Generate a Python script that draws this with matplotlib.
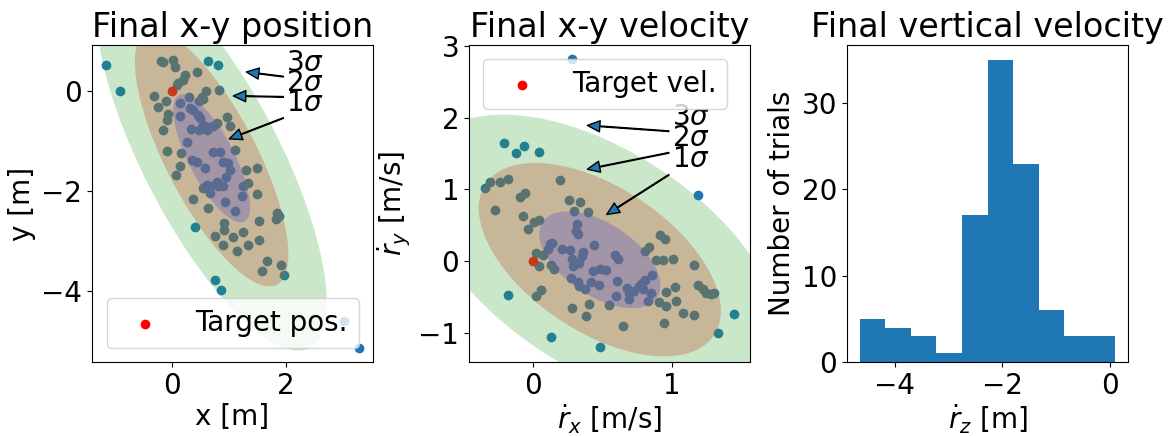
import matplotlib.pyplot as plt
from matplotlib.patches import Ellipse
import numpy as np

plt.rcParams['font.size'] = 20

# final x-y position of each trial [m]
pos_x = [-1.173, -0.921, -0.205, -0.158, 0.006, 0.047, 0.633, 0.798, 0.428, 0.223,
         0.182, 0.106, 0.076, -0.323, -0.117, -0.252, -0.082, -0.100, -0.164, -0.100,
         0.135, 0.293, 0.516, 0.592, 0.821, 0.475, 0.545, 0.135, 0.311, 0.370,
         0.457, 0.487, 0.545, 0.633, 0.604, 0.721, 0.780, 0.956, 1.015, 1.103,
         0.328, 0.475, 0.252, 0.340, 0.428, 0.575, 0.721, 0.839, 0.897, 0.985,
         1.015, 0.944, 0.780, 0.809, 0.663, 0.604, 0.545, 0.663, 0.927, 1.103,
         1.296, 1.484, 1.337, 1.238, 1.484, 1.226, 0.370, 0.633, 0.135, 0.065,
         0.147, 0.405, 0.751, 0.915, 0.915, 1.073, 0.886, 1.249, 1.337, 1.132,
         1.519, 1.519, 1.836, 1.865, 1.824, 1.660, 1.572, 1.912, 1.953, 0.751,
         0.850, 3.009, 3.273, 0.897]
pos_y = [0.520, 0.000, 0.607, 0.587, 0.620, 0.487, 0.600, 0.520, 0.387, 0.320,
         0.220, 0.167, 0.120, -0.100, -0.193, -0.327, -0.460, -0.580, -0.780, -1.193,
         -0.500, -0.120, -0.113, 0.007, 0.020, -0.193, -0.160, -0.247, -0.347, -0.380,
         -0.480, -0.547, -0.680, -0.713, -0.780, -0.700, -0.633, -0.513, -0.700, -1.180,
         -0.767, -0.780, -1.013, -1.380, -1.427, -1.547, -1.213, -1.227, -1.413, -1.447,
         -1.580, -1.727, -1.813, -1.913, -1.913, -1.880, -1.953, -2.047, -2.233, -2.413,
         -1.580, -1.547, -1.833, -1.913, -2.060, -2.113, -2.160, -2.347, -1.500, -1.680,
         -1.247, -2.733, -2.913, -2.647, -2.780, -2.933, -3.080, -2.827, -3.080, -3.213,
         -2.613, -2.980, -2.447, -2.513, -2.567, -3.413, -3.613, -3.493, -3.680, -3.780,
         -3.993, -4.613, -5.147, -1.913]

# final x-y velocity of each trial [m/s]
vel_x = [0.277, -0.214, -0.130, -0.065, 0.043, -0.352, -0.313, -0.239, -0.183, 0.195,
         -0.275, -0.094, -0.058, -0.077, -0.041, 0.007, 0.043, 0.255, 0.337, 0.296,
         0.395, 0.316, 0.308, 0.320, 0.439, 0.116, 0.133, 0.104, 0.207, 0.265,
         0.357, 0.349, 0.280, 0.333, 0.284, 0.019, 0.043, 0.072, 0.130, 0.147,
         0.275, 0.320, 0.333, 0.376, 0.417, 0.477, 0.429, 0.484, 0.528, 0.593,
         0.610, 0.605, 0.595, 0.675, 0.689, 0.694, 0.730, 0.766, 0.786, 0.810,
         0.858, 0.851, 0.829, 0.795, 0.807, 0.834, 0.916, 0.954, 0.887, 0.940,
         1.007, 1.159, 1.188, 1.224, 1.248, 1.284, 1.308, 0.959, 1.027, 1.031,
         0.906, 0.959, 0.947, 1.080, 1.159, 1.333, 1.453, 1.193, 0.019, 0.051,
         0.280, 0.405, 0.378, 0.549, 0.651, -0.186, 0.128, 0.484]
vel_y = [2.814, 1.651, 1.512, 1.605, 1.526, 1.023, 1.102, 1.107, 1.140, 1.130,
         0.707, 0.893, 0.953, 0.628, 0.451, 0.544, 0.567, 0.847, 0.823, 0.698,
         0.688, 0.521, 0.419, 0.372, 0.219, 0.233, 0.256, 0.163, 0.163, 0.149,
         0.126, 0.070, 0.033, -0.023, -0.070, 0.116, -0.070, 0.079, -0.047, -0.107,
         -0.237, -0.288, -0.340, -0.386, -0.293, -0.326, -0.140, -0.116, -0.126, 0.079,
         0.023, -0.279, -0.479, -0.372, -0.442, -0.521, -0.419, -0.340, -0.302, -0.265,
         -0.200, -0.442, -0.558, -0.395, 0.135, 0.200, 0.358, 0.302, 0.014, 0.014,
         0.023, -0.047, -0.326, -0.386, -0.442, -0.451, -0.442, -0.433, -0.358, -0.558,
         -0.567, -0.628, -0.860, -0.721, -0.753, -1.000, -0.730, 0.921, -0.479, -0.409,
         -0.651, -0.591, -0.767, -0.614, -0.898, -0.465, -1.060, -1.200]

# histogram of final vertical velocity
vz_edges = [-4.65, -4.175, -3.70, -3.225, -2.75, -2.275, -1.80, -1.325, -0.85, -0.375, 0.10]
vz_counts = [5, 4, 3, 1, 17, 35, 23, 6, 3, 3]

# 1-sigma ellipses: centre, semi-axes, angle (deg)
pos_ell = dict(center=(0.69, -1.35), a=1.39, b=0.41, angle=-66.2)
vel_ell = dict(center=(0.48, 0.02), a=0.726, b=0.344, angle=-64.9)

# fill colour and alpha of each sigma level
sigma_style = {3: ('C2', 0.25), 2: ('#c45a3a', 0.34), 1: ('#5f5cc4', 0.36)}


def draw_ellipses(ax, ell):
    for n in (3, 2, 1):
        fc, al = sigma_style[n]
        e = Ellipse(ell['center'], width=2 * n * ell['a'], height=2 * n * ell['b'],
                    angle=ell['angle'], facecolor=fc, alpha=al)
        ax.add_patch(e)


def sigma_labels(ax, tips, text_x, text_y):
    for n, tip, ty in zip((3, 2, 1), tips, text_y):
        ax.annotate(r'$%d\sigma$' % n, xy=tip, xytext=(text_x, ty),
                    arrowprops=dict(facecolor='C0', width=0.5, headwidth=8, headlength=9))


fig = plt.figure(figsize=(11.75, 4.36), dpi=100)
ax1 = fig.add_axes([0.0783, 0.1697, 0.2391, 0.7271])
ax2 = fig.add_axes([0.3991, 0.1697, 0.2391, 0.7271])
ax3 = fig.add_axes([0.7209, 0.1697, 0.2391, 0.7271])

# position
ax1.scatter(pos_x, pos_y, color='C0')
ax1.scatter([0], [0], color='red', label='Target pos.')
draw_ellipses(ax1, pos_ell)
sigma_labels(ax1, [(1.30, 0.38), (1.07, -0.10), (1.0, -0.96)], 2.0, [0.4, 0.0, -0.4])
ax1.set_xlim(-1.413, 3.525)
ax1.set_ylim(-5.427, 0.92)
ax1.set_xticks([0, 2])
ax1.set_yticks([-4, -2, 0])
ax1.set_xlabel('x [m]', labelpad=2)
ax1.set_ylabel('y [m]')
ax1.set_title('Final x-y position')
ax1.legend(loc='lower right')

# velocity
ax2.scatter(vel_x, vel_y, color='C0')
ax2.scatter([0], [0], color='red', label='Target vel.')
draw_ellipses(ax2, vel_ell)
sigma_labels(ax2, [(0.39, 1.89), (0.39, 1.28), (0.53, 0.65)], 1.0, [1.89, 1.60, 1.31])
ax2.set_xlim(-0.467, 1.566)
ax2.set_ylim(-1.405, 3.01)
ax2.set_xticks([0, 1])
ax2.set_yticks([-1, 0, 1, 2, 3])
ax2.set_xlabel(r'$\dot{r}_x$ [m/s]', labelpad=2)
ax2.set_ylabel(r'$\dot{r}_y$ [m/s]')
ax2.set_title('Final x-y velocity')
ax2.legend(loc='upper left')

# vertical velocity
centers = [(lo + hi) / 2 for lo, hi in zip(vz_edges[:-1], vz_edges[1:])]
ax3.hist(centers, bins=vz_edges, weights=vz_counts, color='C0')
ax3.set_xticks([-4, -2, 0])
ax3.set_yticks([0, 10, 20, 30])
ax3.set_xlabel(r'$\dot{r}_z$ [m]', labelpad=2)
ax3.set_ylabel('Number of trials')
ax3.set_title('Final vertical velocity')

fig.savefig('out.png', dpi=100)
